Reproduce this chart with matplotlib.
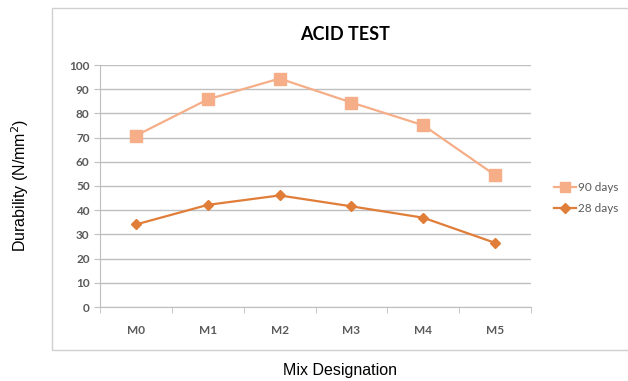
import matplotlib.pyplot as plt
from matplotlib.patches import Rectangle
import numpy as np

mixes = ["M0", "M1", "M2", "M3", "M4", "M5"]
days_90 = [70.8, 85.8, 94.4, 84.5, 75.1, 54.5]
days_28 = [34.1, 42.2, 46.1, 41.6, 36.9, 26.5]
y_ticks = list(range(0, 101, 10))

c90 = "#F5AE88"
c28 = "#E07D38"
grid_c = "#BFBFBF"
txt_c = "#5A5A5A"

plt.rcParams['font.family'] = ['Liberation Sans', 'DejaVu Sans']
tick_font = ['Lato', 'DejaVu Sans']

fig = plt.figure(figsize=(6.28, 3.81), dpi=100)
W, H = 628, 381

# chart area border
fig.patches.append(Rectangle((52 / W, 1 - 350 / H), 1.0, (350 - 8) / H,
                             transform=fig.transFigure, fill=False,
                             edgecolor="#D0D0D0", linewidth=1.0))

ax = fig.add_axes([100 / W, 1 - 307 / H, (531 - 100) / W, (307 - 65) / H])
x = np.arange(len(mixes))
ax.plot(x, days_90, color=c90, lw=1.6, marker="s", ms=8, label="90 days")
ax.plot(x, days_28, color=c28, lw=1.6, marker="D", ms=5.5, label="28 days")

ax.set_xlim(-0.5, len(mixes) - 0.5)
ax.set_ylim(0, 100)
ax.set_yticks(y_ticks)
ax.set_xticks(x)
ax.set_xticklabels(mixes)
ax.set_xticks(np.arange(len(mixes) + 1) - 0.5, minor=True)
ax.tick_params(axis="x", which="major", length=0, pad=13, labelsize=8.5, colors=txt_c)
ax.tick_params(axis="x", which="minor", length=4, color=grid_c)
ax.tick_params(axis="y", length=4, color=grid_c, labelsize=8.5, labelcolor=txt_c)
for t in ax.get_xticklabels() + ax.get_yticklabels():
    t.set_family(tick_font)
    t.set_fontweight("bold")
ax.grid(axis="y", color=grid_c, lw=1.0)
ax.set_axisbelow(True)
for s in ["top", "right"]:
    ax.spines[s].set_visible(False)
for s in ["left", "bottom"]:
    ax.spines[s].set_color(grid_c)

fig.text(345 / W, 1 - 35 / H, "ACID TEST", ha="center", va="center",
         fontsize=13, fontweight="bold", color="black", family=tick_font)
fig.text(20 / W, 1 - 185 / H, "Durability (N/mm$^2$)", rotation=90,
         ha="center", va="center", fontsize=11.5)
fig.text(340 / W, 1 - 370 / H, "Mix Designation", ha="center", va="center",
         fontsize=11.5)

leg = fig.legend(loc="center left", bbox_to_anchor=(543 / W, 1 - 198 / H),
                 frameon=False, handlelength=1.9, handletextpad=0.2,
                 labelspacing=0.9, labelcolor=txt_c, markerscale=0.85,
                 prop={'family': tick_font, 'size': 8.5})

fig.savefig("out.png", dpi=100)
